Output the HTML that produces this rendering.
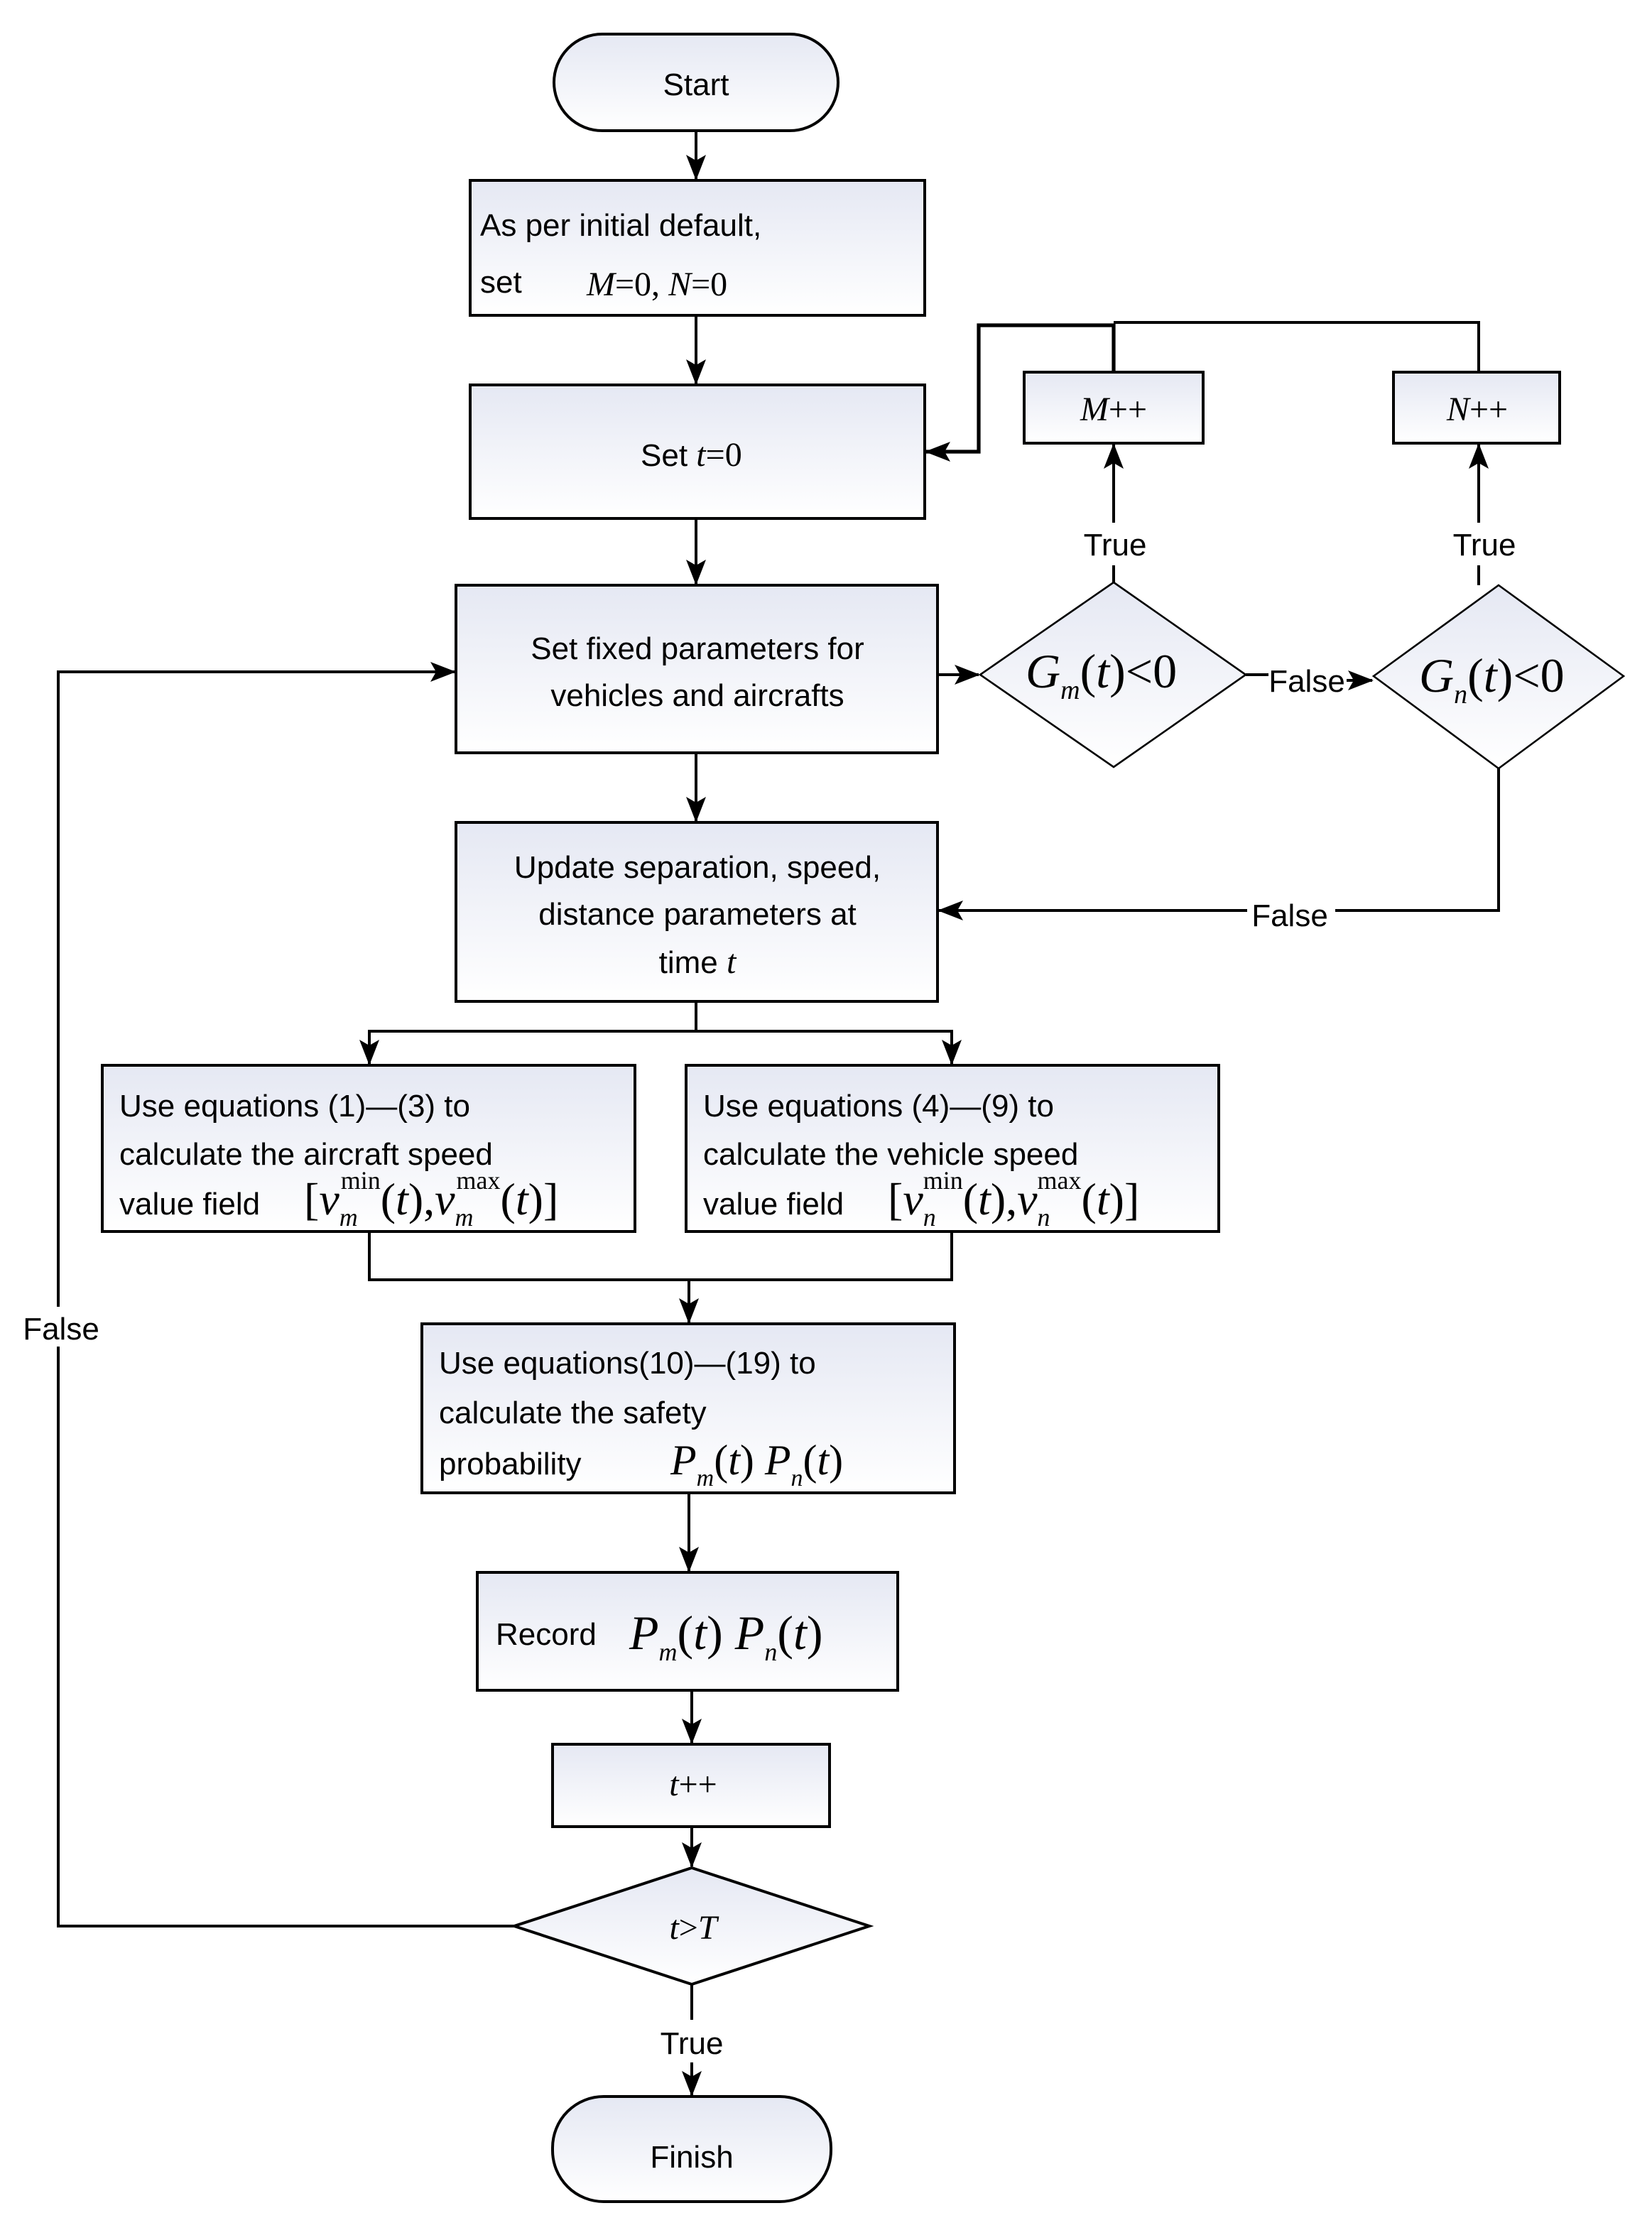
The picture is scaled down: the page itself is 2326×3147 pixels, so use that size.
<!DOCTYPE html>
<html><head><meta charset="utf-8"><style>
html,body{margin:0;padding:0;background:#fff}
svg{display:block}
.s{font-family:"Liberation Sans",sans-serif;font-size:22px;fill:#000}
.m{font-family:"Liberation Serif",serif;font-style:italic;fill:#000}
.r{font-family:"Liberation Serif",serif;fill:#000}
</style></head><body>
<svg width="2326" height="3147" viewBox="0 0 1163 1573.5" xmlns="http://www.w3.org/2000/svg">
<defs>
<linearGradient id="g" x1="0" y1="0" x2="0" y2="1"><stop offset="0" stop-color="#e5e8f3"/><stop offset="1" stop-color="#ffffff"/></linearGradient>
<marker id="a" markerWidth="18" markerHeight="14" refX="17" refY="7" orient="auto" markerUnits="userSpaceOnUse"><path d="M0,0 L18,7 L0,14 L4,7 Z" fill="#000"/></marker>
</defs>
<g fill="url(#g)" stroke="#000" stroke-width="2">
<rect x="390" y="24" width="200" height="68" rx="34"/>
<rect x="331" y="127" width="320" height="95"/>
<rect x="331" y="271" width="320" height="94"/>
<rect x="321" y="412" width="339" height="118"/>
<rect x="321" y="579" width="339" height="126"/>
<rect x="72" y="750" width="375" height="117"/>
<rect x="483" y="750" width="375" height="117"/>
<rect x="297" y="932" width="375" height="119"/>
<rect x="336" y="1107" width="296" height="83"/>
<rect x="389" y="1228" width="195" height="58"/>
<rect x="389" y="1476" width="196" height="74" rx="36"/>
<rect x="721" y="262" width="126" height="50"/>
<rect x="981" y="262" width="117" height="50"/>
</g>
<g fill="url(#g)" stroke="#000" stroke-width="1.3">
<polygon points="784,410 877,475 784,540 690,475"/>
<polygon points="1055,412 1143,476 1055,541 967,476"/>
<polygon points="487,1315 612,1356 487,1397 362,1356" stroke-width="2"/>
</g>
<g fill="none" stroke="#000" stroke-width="2">
<line x1="490" y1="92" x2="490" y2="126" marker-end="url(#a)"/>
<line x1="490" y1="222" x2="490" y2="270" marker-end="url(#a)"/>
<line x1="490" y1="365" x2="490" y2="411" marker-end="url(#a)"/>
<line x1="490" y1="530" x2="490" y2="578" marker-end="url(#a)"/>
<polyline points="490,705 490,726 260,726 260,749" marker-end="url(#a)"/>
<polyline points="490,726 670,726 670,749" marker-end="url(#a)"/>
<polyline points="260,867 260,901 670,901 670,867"/>
<line x1="485" y1="901" x2="485" y2="931" marker-end="url(#a)"/>
<line x1="485" y1="1051" x2="485" y2="1106" marker-end="url(#a)"/>
<line x1="487" y1="1190" x2="487" y2="1227" marker-end="url(#a)"/>
<line x1="487" y1="1286" x2="487" y2="1314" marker-end="url(#a)"/>
<line x1="487" y1="1397" x2="487" y2="1422"/>
<line x1="487" y1="1452" x2="487" y2="1475" marker-end="url(#a)"/>
<polyline points="362,1356 41,1356 41,948"/>
<polyline points="41,920 41,473 320,473" marker-end="url(#a)"/>
<line x1="660" y1="475" x2="689" y2="475" marker-end="url(#a)"/>
<line x1="877" y1="475" x2="893" y2="475"/>
<line x1="948" y1="479" x2="966" y2="479" marker-end="url(#a)"/>
<polyline points="1055,541 1055,641 940,641"/>
<line x1="878" y1="641" x2="661" y2="641" marker-end="url(#a)"/>
<line x1="784" y1="410" x2="784" y2="398"/>
<line x1="784" y1="368" x2="784" y2="313" marker-end="url(#a)"/>
<line x1="1041" y1="412" x2="1041" y2="398"/>
<line x1="1041" y1="368" x2="1041" y2="313" marker-end="url(#a)"/>
<polyline points="784,262 784,229 689,229 689,318 652,318" marker-end="url(#a)" stroke-width="2.6"/>
<polyline points="784,227 1041,227 1041,262"/>
</g>
<text class="s" x="490" y="67" text-anchor="middle" font-size="28">Start</text>
<text class="s" x="338" y="166" font-size="28">As per initial default,</text>
<text class="s" x="338" y="206" font-size="28">set</text>
<text class="m" x="413" y="208" font-size="24">M<tspan class="r" font-style="normal">=0, </tspan>N<tspan font-style="normal">=0</tspan></text>
<text class="s" x="451" y="328">Set <tspan class="m" font-size="24">t</tspan><tspan class="r" font-size="24">=0</tspan></text>
<text class="s" x="491" y="464" text-anchor="middle" font-size="23">Set fixed parameters for</text>
<text class="s" x="491" y="497" text-anchor="middle" font-size="23">vehicles and aircrafts</text>
<text class="s" x="491" y="618" text-anchor="middle" font-size="23">Update separation, speed,</text>
<text class="s" x="491" y="651" text-anchor="middle" font-size="23">distance parameters at</text>
<text class="s" x="491" y="685" text-anchor="middle" font-size="23">time <tspan class="m" font-size="24">t</tspan></text>
<text class="s" x="84" y="786" font-size="23">Use equations (1)—(3) to</text>
<text class="s" x="84" y="820" font-size="23">calculate the aircraft speed</text>
<text class="s" x="84" y="855" font-size="23">value field</text>
<text class="m" x="214" y="855" font-size="32"><tspan class="r" font-style="normal">[</tspan>v<tspan font-size="18" dy="8">m</tspan><tspan class="r" font-style="normal" font-size="18" dx="-12" dy="-26">min</tspan><tspan class="r" font-style="normal" dy="18">(</tspan>t<tspan class="r" font-style="normal">),</tspan>v<tspan font-size="18" dy="8">m</tspan><tspan class="r" font-style="normal" font-size="18" dx="-12" dy="-26">max</tspan><tspan class="r" font-style="normal" dy="18">(</tspan>t<tspan class="r" font-style="normal">)]</tspan></text>
<text class="s" x="495" y="786" font-size="23">Use equations (4)—(9) to</text>
<text class="s" x="495" y="820" font-size="23">calculate the  vehicle speed</text>
<text class="s" x="495" y="855" font-size="23">value field</text>
<text class="m" x="625" y="855" font-size="32"><tspan class="r" font-style="normal">[</tspan>v<tspan font-size="18" dy="8">n</tspan><tspan class="r" font-style="normal" font-size="18" dx="-9" dy="-26">min</tspan><tspan class="r" font-style="normal" dy="18">(</tspan>t<tspan class="r" font-style="normal">),</tspan>v<tspan font-size="18" dy="8">n</tspan><tspan class="r" font-style="normal" font-size="18" dx="-9" dy="-26">max</tspan><tspan class="r" font-style="normal" dy="18">(</tspan>t<tspan class="r" font-style="normal">)]</tspan></text>
<text class="s" x="309" y="967" font-size="23">Use equations(10)—(19) to</text>
<text class="s" x="309" y="1002" font-size="23">calculate the safety</text>
<text class="s" x="309" y="1038" font-size="23">probability</text>
<text class="m" x="472" y="1038" font-size="30">P<tspan font-size="17" dy="8">m</tspan><tspan class="r" font-style="normal" dy="-8">(</tspan>t<tspan class="r" font-style="normal">)  </tspan>P<tspan font-size="17" dy="8">n</tspan><tspan class="r" font-style="normal" dy="-8">(</tspan>t<tspan class="r" font-style="normal">)</tspan></text>
<text class="s" x="349" y="1158">Record</text>
<text class="m" x="443" y="1161" font-size="34">P<tspan font-size="18" dy="8">m</tspan><tspan class="r" font-style="normal" dy="-8">(</tspan>t<tspan class="r" font-style="normal">) </tspan>P<tspan font-size="18" dy="8">n</tspan><tspan class="r" font-style="normal" dy="-8">(</tspan>t<tspan class="r" font-style="normal">)</tspan></text>
<text class="m" x="488" y="1264" font-size="24" text-anchor="middle">t<tspan class="r" font-style="normal">++</tspan></text>
<text class="m" x="488" y="1365" font-size="24" text-anchor="middle">t<tspan class="r" font-style="normal">&gt;</tspan>T</text>
<text class="s" x="487" y="1526" text-anchor="middle" font-size="30">Finish</text>
<text class="m" x="784" y="296" font-size="24" text-anchor="middle">M<tspan class="r" font-style="normal">++</tspan></text>
<text class="m" x="1040" y="296" font-size="24" text-anchor="middle">N<tspan class="r" font-style="normal">++</tspan></text>
<text class="m" x="722" y="484" font-size="34">G<tspan font-size="19" dy="8">m</tspan><tspan class="r" font-style="normal" dy="-8">(</tspan>t<tspan class="r" font-style="normal">)&lt;0</tspan></text>
<text class="m" x="999" y="487" font-size="34">G<tspan font-size="19" dy="8">n</tspan><tspan class="r" font-style="normal" dy="-8">(</tspan>t<tspan class="r" font-style="normal">)&lt;0</tspan></text>
<text class="s" x="785" y="391" text-anchor="middle" font-size="23">True</text>
<text class="s" x="1045" y="391" text-anchor="middle" font-size="23">True</text>
<text class="s" x="920" y="487" text-anchor="middle" font-size="23">False</text>
<text class="s" x="908" y="652" text-anchor="middle" font-size="23">False</text>
<text class="s" x="43" y="943" text-anchor="middle" font-size="23">False</text>
<text class="s" x="487" y="1446" text-anchor="middle" font-size="23">True</text>
</svg>
</body></html>
